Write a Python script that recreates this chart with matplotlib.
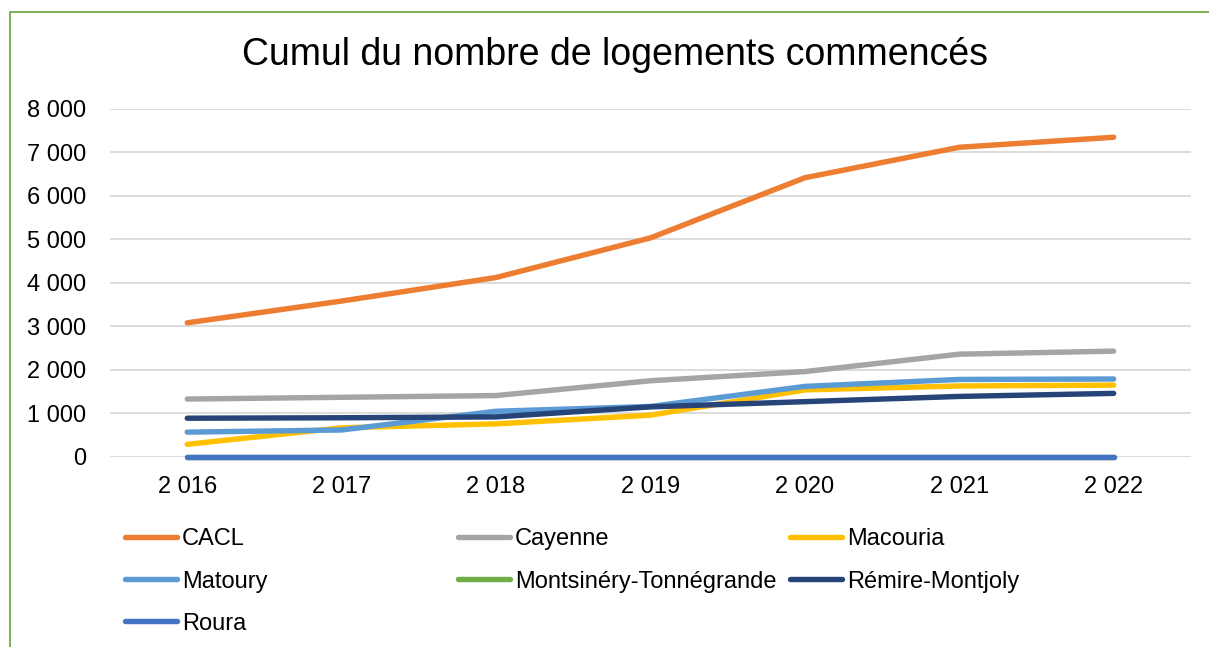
import matplotlib
matplotlib.use("Agg")
import matplotlib.pyplot as plt
from matplotlib.patches import Rectangle
from matplotlib.ticker import FuncFormatter

plt.rcParams['font.family'] = ['Liberation Sans', 'DejaVu Sans']

annees = [2016, 2017, 2018, 2019, 2020, 2021, 2022]

cacl = [3080, 3580, 4120, 5030, 6410, 7110, 7340]
cayenne = [1330, 1370, 1410, 1750, 1960, 2360, 2430]
macouria = [290, 670, 760, 960, 1540, 1630, 1650]
matoury = [570, 620, 1050, 1160, 1620, 1780, 1790]
montsinery = [0, 0, 0, 0, 0, 0, 0]
remire = [890, 900, 920, 1150, 1270, 1390, 1460]
roura = [0, 0, 0, 0, 0, 0, 0]

noms = ['CACL', 'Cayenne', 'Macouria', 'Matoury',
        'Montsinéry-Tonnégrande', 'Rémire-Montjoly', 'Roura']
series = [cacl, cayenne, macouria, matoury, montsinery, remire, roura]
couleurs = ['#ED7D31', '#A5A5A5', '#FFC000', '#5B9BD5',
            '#70AD47', '#264478', '#4472C4']


def sep_milliers(v, pos=None):
    s = f"{int(round(v)):,}".replace(",", " ")
    return s


fig = plt.figure(figsize=(12.09, 6.47), dpi=100)
ax = fig.add_axes([0.091, 0.2937, 0.894, 0.5386])

x = list(range(len(annees)))
lignes = []
for nom, vals, c in zip(noms, series, couleurs):
    l, = ax.plot(x, vals, color=c, lw=3.9, solid_capstyle='round',
                 solid_joinstyle='round', label=nom, clip_on=False)
    lignes.append(l)

ax.set_xlim(-0.5, len(annees) - 0.5)
ax.set_ylim(0, 8000)
ax.set_yticks(range(0, 8001, 1000))
ax.yaxis.set_major_formatter(FuncFormatter(sep_milliers))
ax.set_xticks(x)
ax.set_xticklabels([sep_milliers(a) for a in annees])
ax.tick_params(axis='both', length=0, labelsize=17)
ax.tick_params(axis='y', pad=17)
ax.tick_params(axis='x', pad=14)
ax.grid(axis='y', color='#D9D9D9', lw=1.3)
ax.set_axisbelow(True)
for s in ax.spines.values():
    s.set_visible(False)

fig.text(0.509, 0.915, 'Cumul du nombre de logements commencés',
         ha='center', va='center', fontsize=27)

# legende en 3 colonnes, ordre ligne par ligne
colonnes = [[0, 3, 6], [1, 4], [2, 5]]
x_cols = [0.1037, 0.3792, 0.6538]
for idx, xc in zip(colonnes, x_cols):
    leg = fig.legend([lignes[i] for i in idx], [noms[i] for i in idx],
                     loc='upper left', bbox_to_anchor=(xc, 0.1832),
                     frameon=False, fontsize=17, handlelength=2.2,
                     handletextpad=0.2, labelspacing=0.85,
                     borderaxespad=0, borderpad=0)

fig.patches.append(Rectangle((10 / 1209, -0.1), 1.2, 1.1 - 12 / 647,
                             transform=fig.transFigure, fill=False,
                             edgecolor='#70AD47', lw=1.3))

fig.savefig('out.png', dpi=100)
